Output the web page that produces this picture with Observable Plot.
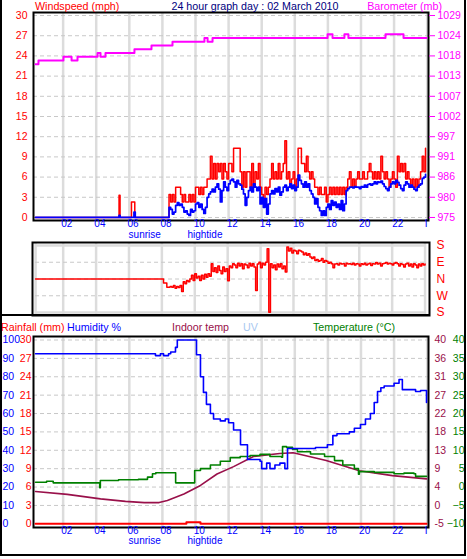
<!DOCTYPE html>
<html><head><meta charset="utf-8">
<script src="https://cdn.jsdelivr.net/npm/d3@7"></script>
<script src="https://cdn.jsdelivr.net/npm/@observablehq/plot@0.6"></script>
<style>
html,body{margin:0;padding:0;background:#fff;}
#root{position:relative;width:467px;height:559px;overflow:hidden;background:#fff;font-family:"Liberation Sans",Arial,sans-serif;}
#root svg{position:absolute;left:0;top:0;}
.t{position:absolute;font-size:10.7px;line-height:12px;white-space:nowrap;}
.b{position:absolute;background:#000;}
</style></head><body><div id="root"></div>
<script>
// ---------- data ----------
const hourTicks = [2,4,6,8,10,12,14,16,18,20,22];
const hourLabels = ["02","04","06","08","10","12","14","16","18","20","22"];
const endTick = [24], endLabel = ["I"];
const windTicks = [0,3,6,9,12,15,18,21,24,27,30];
const baroTicks = [975,980.4,985.8,991.2,996.6,1002,1007.4,1012.8,1018.2,1023.6,1029];
const dirTicks = [-180,-90,0,90,180];
const dirLabels = ["S","W","N","E","S"];
const humTicks = [0,10,20,30,40,50,60,70,80,90,100];
const rainTicks = [0,3,6,9,12,15,18,21,24,27,30];
const indoorTicks = [-5,-0.5,4,8.5,13,17.5,22,26.5,31,35.5,40];
const tempTicks = [-10,-5,0,5,10,15,20,25,30,35,40];
const events = ["sunrise","hightide"];
const eventHours = [6.93,10.57];

const baroHours = [0.33,0.51,2.02,2.51,2.87,4.08,4.26,4.56,6.31,7.34,8.61,10.54,10.73,11.03,17.98,18.28,19.0,19.24,21.48,22.57,23.96];
const baroMb    = [1016,1017,1018,1017,1018,1019,1018,1019,1020,1021,1022,1023,1022,1023,1024,1023,1024,1023,1024,1023,1023];

// calm night: isolated readings before the wind picked up
const earlyGustHours = [0.33,5.38,5.44,6.13,6.33];
const earlyGustMph   = [0,3.3,0,2.3,0];
const earlyAvgHours  = [0.33,5.38,5.44,6.28,6.36];
const earlyAvgMph    = [0,0.3,0,0.8,0];
// readings every 0.1 h from 08.3 h to 23.9 h
const windStartHour = 8.3, windStepHours = 0.1;
const gustMph = [0,3.4,2.3,3.4,2.3,4.5,4.5,4.5,3.4,2.3,3.4,2.3,2.3,3.4,2.3,3.4,2.3,4.5,4.5,3.4,
  4.5,3.4,4.5,4.5,5.7,5.7,9.1,5.7,8.0,5.7,8.0,6.8,8.0,5.7,8.0,6.8,5.7,8.0,8.0,6.8,
  10.3,10.3,10.3,10.3,6.8,4.5,6.8,4.5,6.8,6.8,4.5,8.0,4.5,6.8,5.7,8.0,4.5,3.4,2.3,4.5,
  3.4,4.5,5.7,8.0,5.7,6.8,5.7,8.0,5.7,6.8,8.0,11.4,5.7,6.8,4.5,5.7,6.8,4.5,5.7,10.3,
  10.3,8.0,8.0,6.8,9.1,6.8,5.7,6.8,5.7,4.5,4.5,3.4,4.5,3.4,3.4,4.5,2.3,3.4,4.5,3.4,
  4.5,3.4,4.5,3.4,4.5,3.4,4.5,3.4,4.5,5.7,6.8,4.5,5.7,4.5,5.7,6.8,5.7,5.7,6.8,5.7,
  5.7,6.8,8.0,6.8,5.7,6.8,5.7,6.8,5.7,9.1,6.8,5.7,6.8,5.7,4.5,5.7,6.8,5.7,4.5,9.1,
  6.8,8.0,6.8,8.0,5.7,6.8,5.7,4.5,5.7,4.5,5.7,4.5,5.7,6.8,9.1,6.8,10.3];
const avgMph = [0,1.5,1.2,0.5,0.8,1.8,2.2,1.8,2.0,1.5,0.8,1.0,0.5,0.3,1.2,0.8,1.0,2.0,2.2,1.5,
  2.0,1.2,0.6,1.5,3.0,3.5,3.8,4.2,3.8,4.5,5.0,4.2,2.3,4.0,5.3,4.5,4.0,5.0,5.5,5.7,
  5.3,4.5,5.5,5.0,4.8,4.2,3.5,1.8,3.0,4.0,4.5,3.8,5.0,4.5,4.0,4.5,2.0,3.0,1.5,2.8,
  0.5,2.0,3.5,4.0,3.5,4.3,3.8,4.5,3.3,3.8,4.5,4.8,4.0,4.5,5.0,4.3,4.8,4.0,4.5,6.3,
  5.5,5.0,4.5,5.3,4.5,5.0,4.0,3.5,3.0,2.0,2.8,1.5,1.0,0.3,1.0,0.3,1.5,2.0,1.2,2.5,
  1.8,2.3,1.5,2.0,1.2,2.5,1.0,2.0,4.0,4.3,4.5,4.5,4.4,4.6,4.5,4.5,4.3,4.6,4.5,4.8,
  4.5,4.9,5.0,4.8,5.0,5.3,5.0,5.3,5.2,5.4,5.0,4.6,4.3,4.0,4.5,5.0,5.3,5.0,5.5,5.2,
  4.8,4.3,4.0,4.8,5.3,5.0,4.5,4.8,4.5,4.2,4.0,4.5,4.8,5.0,5.8,6.0,6.4];

// wind direction (degrees, N = 0, E = 90, S = ±180); steady N overnight, then every 0.1 h from 08.0 h
const dirNightHours = [0.32], dirNightDeg = [0];
const dirStartHour = 8.0, dirStepHours = 0.1;
const dirDeg = [0,-22,-22,-44,-44,-40,-44,-35,-50,-40,-45,-35,-67,-15,-26,-8,-15,0,20,-8,
  28,5,15,-8,20,0,25,10,28,15,82,40,60,35,70,45,28,65,40,55,
  -10,70,60,82,75,60,85,70,82,55,80,75,60,85,70,82,65,-62,80,90,
  60,85,75,90,162,-178,82,60,75,50,80,65,82,55,70,38,172,150,165,140,
  155,150,135,155,150,145,130,140,128,135,118,110,118,100,105,95,100,110,90,100,
  95,85,90,82,60,80,82,75,85,80,82,70,85,80,82,78,85,75,82,80,
  70,82,78,85,75,80,85,72,82,80,88,80,85,70,82,85,88,80,85,82,
  75,85,88,82,70,82,78,65,80,85,70,80,65,82,75,60,80,70,82,75,80];

const humHours = [0.33,7.58,7.88,8.07,8.37,8.5,8.79,8.9,9.94,10.06,10.3,10.48,10.66,10.9,11.09,11.5,11.8,12.0,12.3,12.72,13.14,13.9,14.0,14.3,14.5,14.8,15.1,15.4,15.56,16.35,17.25,17.97,18.3,18.55,19.3,19.6,19.97,20.27,20.57,20.8,21.0,21.2,21.4,22.0,22.3,22.5,23.3,23.6,23.96];
const humPct   = [92.5,91.5,92.5,91.5,92.5,93.5,96,100,100,92,80,71.5,65,60,57,56,57,55,51,43,35,34,30,33,30,32,33,30,41,41,41.5,43,48,49,50,52,54,57,60,66,72,74,75,76.5,78.5,73,72,72.5,66];
const tempHours = [0.33,1.0,1.4,4.2,4.21,4.25,5.35,6.25,6.55,7.1,7.4,7.6,8.6,8.8,9.9,9.95,10.3,10.9,11.5,12.1,12.7,13.3,13.9,14.5,15.2,15.26,15.5,15.86,16.16,16.95,17.8,18.4,18.9,19.6,19.85,19.9,20.8,22.0,22.6,23.2,23.3,23.96];
const tempC     = [1.3,1.6,1.15,1.15,-0.2,1.8,2.0,2.0,2.1,2.7,3.6,3.9,3.9,1.15,1.15,4.5,5.0,6.0,7.0,8.0,8.3,8.6,8.9,8.3,8.1,11.0,10.8,10.3,9.6,9.0,8.3,7.2,6.0,5.0,3.5,4.2,4.0,3.6,3.8,3.6,2.9,2.9];
const indoorHours = [0.33,2.25,4.26,5.77,6.9,7.8,8.3,9.3,10.3,11.3,12.3,13.5,15.1,15.9,17.9,19.9,21.9,23.96];
const indoorC     = [2.9,2.2,1.1,0.5,0.2,0.2,0.7,2.3,4.4,7.2,9.0,11.5,12.2,12.4,10.5,8.0,6.8,6.0];
const rainHours = [0.33,9.45,10.3,23.96];
const rainMm    = [0,0.25,0,0];

// ---------- build ----------
const zip = (hs, vs) => hs.map((h, i) => ({h, v: vs[i]}));
const regular = (vs, start, step) => vs.map((v, i) => ({h: start + i * step, v}));
const gust = [...zip(earlyGustHours, earlyGustMph), ...regular(gustMph, windStartHour, windStepHours)];
const avg = [...zip(earlyAvgHours, earlyAvgMph), ...regular(avgMph, windStartHour, windStepHours)];
const baro = zip(baroHours, baroMb);
const dir = [...zip(dirNightHours, dirNightDeg), ...regular(dirDeg, dirStartHour, dirStepHours)];
const hum = zip(humHours, humPct), temp = zip(tempHours, tempC), indoor = zip(indoorHours, indoorC), rain = zip(rainHours, rainMm);
const ticksX = hourTicks.map((h, i) => ({h, s: hourLabels[i]}));
const ticksEnd = endTick.map((h, i) => ({h, s: endLabel[i]}));
const ev = eventHours.map((h, i) => ({h, s: events[i]}));

const FONT = '"Liberation Sans", Arial, sans-serif';
const root = document.getElementById("root");
const W = 467, H = 559;
const GRID = "#dcdcdc", DASH = "#c8c8c8";
function add(opts) {
  opts.x = Object.assign({axis: null}, opts.x);
  opts.y = Object.assign({axis: null}, opts.y);
  const svg = Plot.plot(Object.assign({
    width: W, height: H,
    style: {background: "transparent", fontFamily: FONT, fontSize: "10px", overflow: "visible"}
  }, opts));
  root.appendChild(svg);
}
function txt(s, x, y, color, align) {
  const d = document.createElement("div");
  d.className = "t"; d.textContent = s; d.style.color = color;
  d.style.top = y + "px";
  if (align === "right") { d.style.right = (W - x) + "px"; }
  else if (align === "center") { d.style.left = x + "px"; d.style.transform = "translateX(-50%)"; }
  else d.style.left = x + "px";
  root.appendChild(d);
}
function bar(l, t, w, h) {
  const d = document.createElement("div");
  d.className = "b"; d.style.left = l + "px"; d.style.top = t + "px"; d.style.width = w + "px"; d.style.height = h + "px";
  root.appendChild(d);
}
const round = d => String(Math.round(d));
const hourText = (dyA, dyB) => [
  Plot.text(ticksX, {x: "h", text: "s", frameAnchor: "bottom", dy: dyA, dx: 3.7, fill: "#0000ff", fontSize: 10}),
  Plot.text(ticksEnd, {x: "h", text: "s", frameAnchor: "bottom", dy: dyA, dx: -1, fill: "#0000ff", fontSize: 10}),
  Plot.text(ev, {x: "h", text: "s", frameAnchor: "bottom", dy: dyB, fill: "#0000ff", fontSize: 10})
];

// ---- panel 1 geometry: frame x 33..428, y 12..220
const P1 = {marginTop: 12, marginBottom: H - 220, marginLeft: 33, marginRight: W - 428,
  x: {domain: [0.21, 24.08]}};
add({...P1, y: {domain: [-0.45, 30.45]}, marks: [
  Plot.ruleX([...hourTicks, 24], {stroke: GRID, strokeWidth: 2.5}),
  Plot.ruleY(windTicks, {stroke: DASH, strokeDasharray: "4,3"}),
  Plot.line(gust, {x: "h", y: "v", curve: "step-after", stroke: "#ff0000", strokeWidth: 1.5}),
  Plot.line(avg, {x: "h", y: "v", curve: "step-after", stroke: "#0000ff", strokeWidth: 1.7}),
  Plot.frame({stroke: "black", strokeWidth: 2}),
  Plot.axisY(windTicks, {anchor: "left", label: null, tickSize: 0, tickPadding: 6, color: "#ff0000", fontSize: 10.5}),
  ...hourText(6.5, 17)
]});
add({...P1, y: {domain: [975 - 0.81, 1029 + 0.81]}, marks: [
  Plot.line(baro, {x: "h", y: "v", curve: "step-after", stroke: "#ff00ff", strokeWidth: 2}),
  Plot.axisY(baroTicks, {anchor: "right", label: null, tickSize: 6, tickPadding: 3, color: "#ff00ff", fontSize: 10.5, tickFormat: round})
]});

// ---- panel 2 geometry: frame x 32..429, y 242..315
add({marginTop: 242, marginBottom: H - 315, marginLeft: 32, marginRight: W - 429,
  x: {domain: [0.134, 24.27]}, y: {domain: [-196, 196]}, marks: [
  Plot.ruleX([0.32, ...hourTicks, 24], {stroke: GRID, strokeWidth: 2.5}),
  Plot.ruleY([-180, 180], {stroke: GRID, strokeWidth: 2.5, x1: 0.32, x2: 24}),
  Plot.ruleY([-90, 0, 90], {stroke: DASH, strokeDasharray: "4,3", x1: 0.32, x2: 24}),
  Plot.line(dir, {x: "h", y: "v", curve: "step-after", stroke: "#ff0000", strokeWidth: 1.5}),
  Plot.frame({stroke: "black", strokeWidth: 2}),
  Plot.axisY(dirTicks, {anchor: "right", label: null, tickSize: 0, tickPadding: 7, color: "#ff0000", fontSize: 12, tickFormat: d => dirLabels[dirTicks.indexOf(d)]})
]});

// ---- panel 3 geometry: frame x 33..428, y 336..527
const P3 = {marginTop: 336, marginBottom: H - 527, marginLeft: 33, marginRight: W - 428,
  x: {domain: [0.21, 24.08]}};
add({...P3, y: {domain: [-2.0, 101.9]}, marks: [
  Plot.ruleX([...hourTicks, 24], {stroke: GRID, strokeWidth: 2.5}),
  Plot.ruleY(humTicks.slice(1), {stroke: DASH, strokeDasharray: "4,3"}),
  Plot.frame({stroke: "black", strokeWidth: 2}),
  Plot.axisY(humTicks, {anchor: "left", label: null, tickSize: 0, tickPadding: 31, textAnchor: "start", color: "#0000ff", fontSize: 10.5}),
  ...hourText(6.5, 16.5)
]});
add({...P3, y: {domain: [-0.6, 30.57]}, marks: [
  Plot.areaY(rain, {x: "h", y: "v", curve: "step-after", fill: "#b8d4f0"}),
  Plot.line(rain, {x: "h", y: "v", curve: "step-after", stroke: "#ff0000", strokeWidth: 2}),
  Plot.axisY(rainTicks, {anchor: "left", label: null, tickSize: 0, tickPadding: 2, color: "#ff0000", fontSize: 10.5})
]});
add({...P3, y: {domain: [-5.9, 40.86]}, marks: [
  Plot.line(indoor, {x: "h", y: "v", stroke: "#99104a", strokeWidth: 1.6}),
  Plot.axisY(indoorTicks, {anchor: "right", label: null, tickSize: 0, tickPadding: 6, color: "#99104a", fontSize: 10.5, tickFormat: round})
]});
add({...P3, y: {domain: [-11.0, 40.95]}, marks: [
  Plot.line(temp, {x: "h", y: "v", curve: "step-after", stroke: "#008000", strokeWidth: 1.6}),
  Plot.axisY(tempTicks, {anchor: "right", label: null, tickSize: 0, tickPadding: 36, textAnchor: "end", color: "#008000", fontSize: 10.5})
]});
add({...P3, y: {domain: [-2.0, 101.9]}, marks: [
  Plot.line(hum, {x: "h", y: "v", curve: "step-after", stroke: "#0000ff", strokeWidth: 1.6})
]});

// ---- titles
txt("Windspeed (mph)", 35, 0, "#ff0000");
txt("24 hour graph day : 02 March 2010", 255, 0, "#000080", "center");
txt("Barometer (mb)", 442, 0, "#ff00ff", "right");
txt("Rainfall (mm)", 1, 321, "#ff0000");
txt("Humidity %", 67, 321, "#0000ff");
txt("Indoor temp", 172, 321, "#99104a");
txt("UV", 243, 321, "#a8c8f0");
txt("Temperature (°C)", 313, 321, "#008000");

// ---- outer border
bar(0, 0, 2, 556);
bar(464, 0, 2, 556);
bar(0, 554, 466, 2);
bar(0, 314, 429, 2);
</script>
</body></html>
